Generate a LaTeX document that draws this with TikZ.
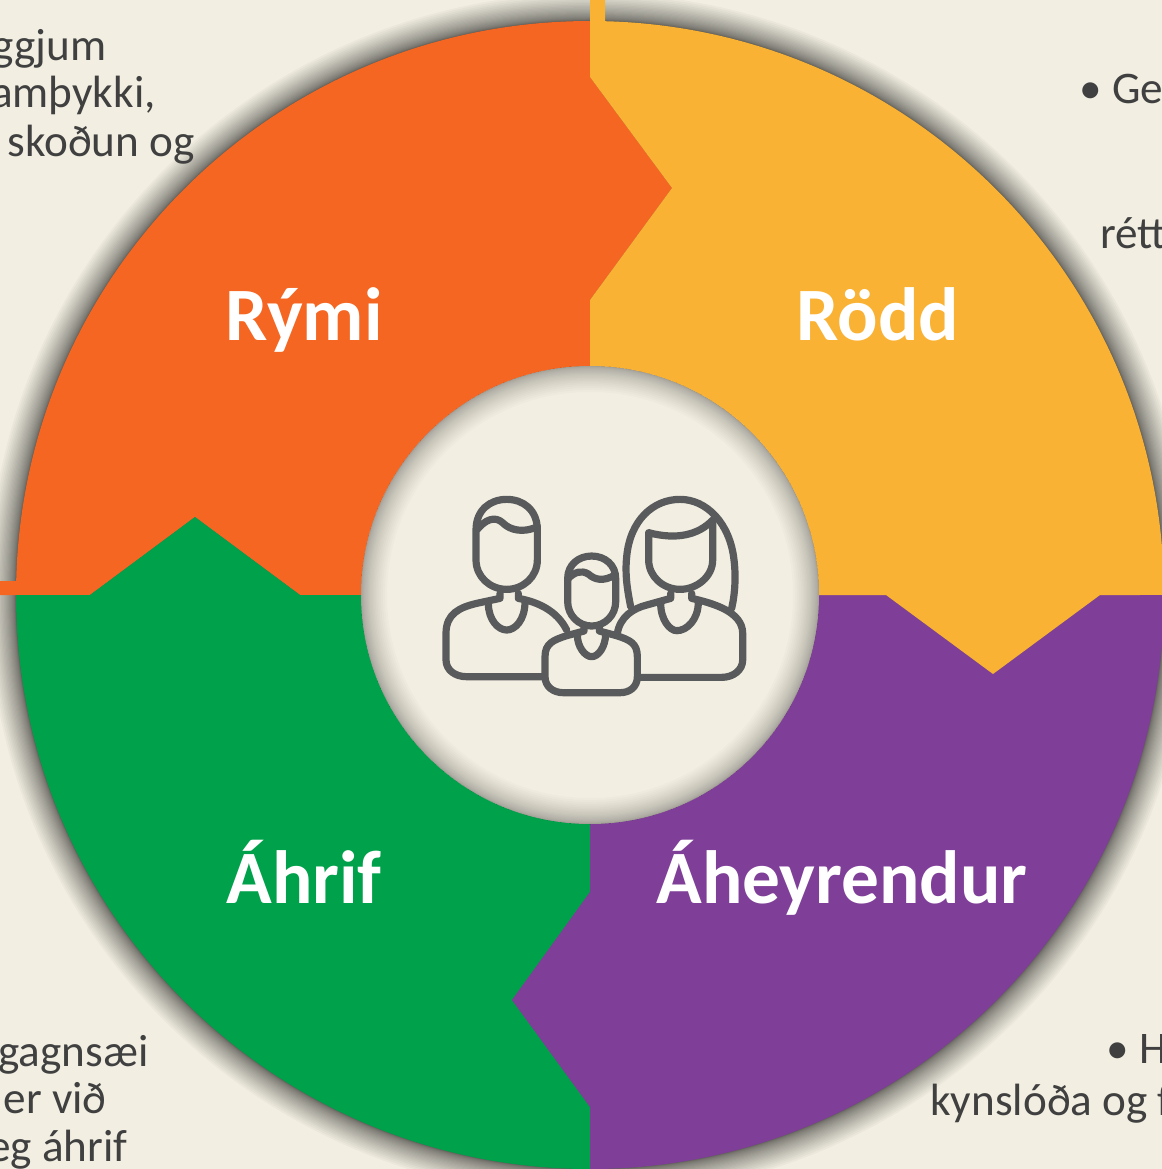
\documentclass[tikz,border=0pt]{standalone}
\usepackage{fontspec}
\setmainfont{Carlito}
\definecolor{paper}{HTML}{F2EFE2}
\definecolor{rymicol}{HTML}{F46622}
\definecolor{roddcol}{HTML}{F9B233}
\definecolor{ahrifcol}{HTML}{00A14B}
\definecolor{aheycol}{HTML}{7F3F98}
\definecolor{iconcol}{HTML}{595A5C}
\definecolor{bodycol}{HTML}{404040}
\tikzset{
  petal label/.style={text=white,inner sep=0,anchor=base,font=\bfseries\fontsize{37.7}{44}\selectfont},
  side text/.style={text=bodycol,inner sep=0,font=\fontsize{22.6}{24}\selectfont},
  icon line/.style={draw=iconcol,line width=3.6pt,line cap=round,line join=round}
}
\begin{document}
\begin{tikzpicture}[x=.5pt,y=-.5pt]
  \useasboundingbox (0,0) rectangle (1162,1169);
  \fill[paper] (0,0) rectangle (1162,1169);
  \coordinate (mid) at (590,595);
  % outer shadow
  \foreach \i in {0,...,30}
    \fill[black,opacity=.027] (mid) circle[radius=574+28*(\i/30)^2];
  % four petals
  \fill[rymicol] (mid)--(300,595)--(195,517)--(90,595)--(0,595)--(0,581)--(16,581)--(16,595)
    arc[start angle=180,end angle=270,radius=574]--(590,77)--(672,188)--(590,300)--cycle;
  \fill[ahrifcol] (mid)--(590,892)--(512,1000)--(590,1107)--(590,1169)
    arc[start angle=90,end angle=180,radius=574]--(90,595)--(195,517)--(300,595)--cycle;
  \fill[aheycol] (mid)--(886,595)--(993,674)--(1100,595)--(1164,595)
    arc[start angle=0,end angle=90,radius=574]--(590,1107)--(512,1000)--(590,892)--cycle;
  \fill[roddcol] (mid)--(590,300)--(672,188)--(590,77)--(590,0)--(605,0)--(605,21.2)
    arc[start angle=-88.5,end angle=0,radius=574]--(1100,595)--(993,674)--(886,595)--cycle;
  % middle disc with its inner shadow
  \fill[paper] (mid) circle[radius=229];
  \foreach \i in {1,...,24}
    \fill[black,opacity=.016,even odd rule] (mid) circle[radius=229] circle[radius=229-26*(\i/24)^2];
  % family icon, in steps of a third of a pixel
  \begin{scope}[x=.16667pt,y=-.16667pt,shift={(1260,1410)}]
    % man
    \draw[icon line] (168,180) .. controls (168,120) and (210,88) .. (260,88)
      .. controls (310,88) and (352,120) .. (352,180) -- (352,270)
      .. controls (352,320) and (310,358) .. (260,358)
      .. controls (210,358) and (168,320) .. (168,270) -- cycle;
    \draw[icon line] (172,178) .. controls (195,150) and (225,135) .. (250,160)
      .. controls (270,180) and (310,190) .. (352,170);
    \draw[icon line] (240,370) -- (240,385) -- (170,400) .. controls (120,412) and (78,430) .. (78,490)
      -- (78,570) .. controls (78,600) and (105,620) .. (140,620) -- (370,620);
    \draw[icon line] (295,370) -- (295,385) .. controls (350,395) and (410,420) .. (440,480);
    \draw[icon line] (205,400) .. controls (205,450) and (235,480) .. (260,480)
      .. controls (285,480) and (315,450) .. (315,395);
    % woman
    \draw[icon line] (632,410) .. controls (620,350) and (615,310) .. (620,260)
      .. controls (630,150) and (700,88) .. (780,88)
      .. controls (860,88) and (930,160) .. (942,270)
      .. controls (948,320) and (945,370) .. (935,415);
    \draw[icon line] (686,188) -- (686,270) .. controls (686,320) and (730,358) .. (780,358)
      .. controls (830,358) and (878,320) .. (878,270) -- (878,150)
      .. controls (835,195) and (770,210) .. (686,188);
    \draw[icon line] (752,370) -- (752,385) -- (680,405) .. controls (640,415) and (600,440) .. (592,490);
    \draw[icon line] (815,370) -- (815,385) .. controls (880,400) and (968,425) .. (968,490)
      -- (968,570) .. controls (968,600) and (940,622) .. (905,622) -- (655,622);
    \draw[icon line] (722,400) .. controls (722,450) and (750,482) .. (770,482)
      .. controls (800,482) and (835,450) .. (835,395);
    % child
    \draw[icon line] (443,325) .. controls (443,285) and (475,258) .. (515,258)
      .. controls (555,258) and (587,285) .. (587,325) -- (587,395)
      .. controls (587,435) and (555,468) .. (515,468)
      .. controls (475,468) and (443,435) .. (443,395) -- cycle;
    \draw[icon line] (445,325) .. controls (465,305) and (485,300) .. (505,312)
      .. controls (525,330) and (550,335) .. (585,315);
    \draw[icon line] (492,470) -- (492,483) -- (440,497) .. controls (400,510) and (375,520) .. (375,560)
      -- (375,620) .. controls (375,650) and (400,668) .. (430,668) -- (600,668)
      .. controls (630,668) and (652,650) .. (652,620) -- (652,560)
      .. controls (652,520) and (630,510) .. (590,497) -- (538,483) -- (538,470);
    \draw[icon line] (472,495) .. controls (472,530) and (495,560) .. (515,560)
      .. controls (535,560) and (557,530) .. (557,490);
  \end{scope}
  % labels
  \node[petal label] (rymi) at (304,340) {Rými};
  \node[petal label] (rodd) at (878,340) {Rödd};
  \node[petal label] (ahrif) at (304,903) {Áhrif};
  \node[petal label] (aheyrendur) at (842,903) {Áheyrendur};
  % cut off text at the page edges
  \node[side text,anchor=base east] (tl1) at (107,60) {ggjum};
  \node[side text,anchor=base east] (tl2) at (156,107) {amþykki,};
  \node[side text,anchor=base east] (tl3) at (195,156) {skoðun og};
  \node[side text,anchor=base west] (tr1) at (1079,103) {• Ge};
  \node[side text,anchor=base west] (tr2) at (1100,248) {rétt};
  \node[side text,anchor=base east] (bl1) at (149,1066) {gagnsæi};
  \node[side text,anchor=base east] (bl2) at (107,1113) {er við};
  \node[side text,anchor=base east] (bl3) at (128,1161) {eg áhrif};
  \node[side text,anchor=base west] (br1) at (1106,1063) {• H};
  \node[side text,anchor=base west] (br2) at (930,1115) {kynslóða og f};
\end{tikzpicture}
\end{document}
